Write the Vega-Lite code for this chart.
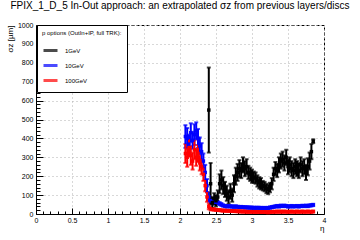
{
  "$schema": "https://vega.github.io/schema/vega-lite/v6.json",
  "autosize": "none",
  "width": 288,
  "height": 189,
  "padding": {"left": 36, "top": 25, "right": 36, "bottom": 26},
  "background": "white",
  "title": {"text": "FPIX_1_D_5 In-Out approach: an extrapolated σz from previous layers/discs", "fontSize": 10, "font": "Liberation Sans", "fontWeight": "normal", "anchor": "middle", "offset": 10, "color": "black"},
  "config": {
    "font": "Liberation Sans",
    "view": {"stroke": "black", "strokeDash": [3, 2], "strokeWidth": 1},
    "axis": {"domainColor": "black", "tickColor": "black", "labelColor": "black", "titleColor": "black", "labelFont": "Liberation Sans", "titleFont": "Liberation Sans", "labelFontSize": 7, "titleFontWeight": "normal"}
  },
  "data": {"values": [
    {"s":"10GeV","eta":2.075,"v":410,"e":60},{"s":"10GeV","eta":2.1,"v":400,"e":55},{"s":"10GeV","eta":2.125,"v":370,"e":50},{"s":"10GeV","eta":2.15,"v":430,"e":50},{"s":"10GeV","eta":2.175,"v":390,"e":45},{"s":"10GeV","eta":2.2,"v":420,"e":55},{"s":"10GeV","eta":2.225,"v":440,"e":45},{"s":"10GeV","eta":2.25,"v":400,"e":50},{"s":"10GeV","eta":2.275,"v":360,"e":45},{"s":"10GeV","eta":2.3,"v":330,"e":45},{"s":"10GeV","eta":2.325,"v":280,"e":40},{"s":"10GeV","eta":2.35,"v":220,"e":40},{"s":"10GeV","eta":2.375,"v":150,"e":35},{"s":"10GeV","eta":2.4,"v":90,"e":25},{"s":"10GeV","eta":2.425,"v":70,"e":15},{"s":"10GeV","eta":2.45,"v":65,"e":10},{"s":"10GeV","eta":2.475,"v":62,"e":10},{"s":"10GeV","eta":2.5,"v":65,"e":10},{"s":"10GeV","eta":2.525,"v":60,"e":8},{"s":"10GeV","eta":2.55,"v":55,"e":8},{"s":"10GeV","eta":2.575,"v":50,"e":8},{"s":"10GeV","eta":2.6,"v":45,"e":6},{"s":"10GeV","eta":2.625,"v":42,"e":6},{"s":"10GeV","eta":2.65,"v":40,"e":6},{"s":"10GeV","eta":2.675,"v":42,"e":6},{"s":"10GeV","eta":2.7,"v":40,"e":6},{"s":"10GeV","eta":2.725,"v":40,"e":6},{"s":"10GeV","eta":2.75,"v":38,"e":6},{"s":"10GeV","eta":2.775,"v":40,"e":6},{"s":"10GeV","eta":2.8,"v":38,"e":6},{"s":"10GeV","eta":2.825,"v":36,"e":6},{"s":"10GeV","eta":2.85,"v":37,"e":6},{"s":"10GeV","eta":2.875,"v":36,"e":6},{"s":"10GeV","eta":2.9,"v":35,"e":6},{"s":"10GeV","eta":2.925,"v":35,"e":6},{"s":"10GeV","eta":2.95,"v":34,"e":6},{"s":"10GeV","eta":2.975,"v":34,"e":6},{"s":"10GeV","eta":3.0,"v":33,"e":6},{"s":"10GeV","eta":3.025,"v":33,"e":6},{"s":"10GeV","eta":3.05,"v":32,"e":6},{"s":"10GeV","eta":3.075,"v":33,"e":6},{"s":"10GeV","eta":3.1,"v":32,"e":6},{"s":"10GeV","eta":3.125,"v":32,"e":6},{"s":"10GeV","eta":3.15,"v":31,"e":6},{"s":"10GeV","eta":3.175,"v":32,"e":6},{"s":"10GeV","eta":3.2,"v":31,"e":6},{"s":"10GeV","eta":3.225,"v":32,"e":6},{"s":"10GeV","eta":3.25,"v":34,"e":6},{"s":"10GeV","eta":3.275,"v":36,"e":6},{"s":"10GeV","eta":3.3,"v":38,"e":6},{"s":"10GeV","eta":3.325,"v":40,"e":6},{"s":"10GeV","eta":3.35,"v":42,"e":6},{"s":"10GeV","eta":3.375,"v":40,"e":6},{"s":"10GeV","eta":3.4,"v":44,"e":6},{"s":"10GeV","eta":3.425,"v":42,"e":6},{"s":"10GeV","eta":3.45,"v":44,"e":6},{"s":"10GeV","eta":3.475,"v":42,"e":6},{"s":"10GeV","eta":3.5,"v":40,"e":6},{"s":"10GeV","eta":3.525,"v":40,"e":6},{"s":"10GeV","eta":3.55,"v":42,"e":6},{"s":"10GeV","eta":3.575,"v":40,"e":6},{"s":"10GeV","eta":3.6,"v":41,"e":6},{"s":"10GeV","eta":3.625,"v":42,"e":6},{"s":"10GeV","eta":3.65,"v":40,"e":6},{"s":"10GeV","eta":3.675,"v":42,"e":6},{"s":"10GeV","eta":3.7,"v":43,"e":6},{"s":"10GeV","eta":3.725,"v":42,"e":6},{"s":"10GeV","eta":3.75,"v":44,"e":6},{"s":"10GeV","eta":3.775,"v":42,"e":6},{"s":"10GeV","eta":3.8,"v":45,"e":6},{"s":"10GeV","eta":3.825,"v":46,"e":6},{"s":"10GeV","eta":3.85,"v":48,"e":6},
    {"s":"100GeV","eta":2.075,"v":320,"e":50},{"s":"100GeV","eta":2.1,"v":300,"e":50},{"s":"100GeV","eta":2.125,"v":350,"e":45},{"s":"100GeV","eta":2.15,"v":310,"e":50},{"s":"100GeV","eta":2.175,"v":280,"e":45},{"s":"100GeV","eta":2.2,"v":340,"e":50},{"s":"100GeV","eta":2.225,"v":300,"e":45},{"s":"100GeV","eta":2.25,"v":320,"e":45},{"s":"100GeV","eta":2.275,"v":270,"e":40},{"s":"100GeV","eta":2.3,"v":250,"e":40},{"s":"100GeV","eta":2.325,"v":210,"e":35},{"s":"100GeV","eta":2.35,"v":150,"e":30},{"s":"100GeV","eta":2.375,"v":90,"e":25},{"s":"100GeV","eta":2.4,"v":40,"e":15},{"s":"100GeV","eta":2.425,"v":28,"e":8},{"s":"100GeV","eta":2.45,"v":25,"e":6},{"s":"100GeV","eta":2.475,"v":24,"e":6},{"s":"100GeV","eta":2.5,"v":22,"e":5},{"s":"100GeV","eta":2.525,"v":21,"e":5},{"s":"100GeV","eta":2.55,"v":20,"e":5},{"s":"100GeV","eta":2.575,"v":19,"e":5},{"s":"100GeV","eta":2.6,"v":18,"e":5},{"s":"100GeV","eta":2.625,"v":18,"e":5},{"s":"100GeV","eta":2.65,"v":17,"e":5},{"s":"100GeV","eta":2.675,"v":17,"e":5},{"s":"100GeV","eta":2.7,"v":16,"e":5},{"s":"100GeV","eta":2.725,"v":16,"e":5},{"s":"100GeV","eta":2.75,"v":15,"e":5},{"s":"100GeV","eta":2.775,"v":15,"e":5},{"s":"100GeV","eta":2.8,"v":14,"e":5},{"s":"100GeV","eta":2.825,"v":14,"e":5},{"s":"100GeV","eta":2.85,"v":13,"e":5},{"s":"100GeV","eta":2.875,"v":13,"e":5},{"s":"100GeV","eta":2.9,"v":13,"e":5},{"s":"100GeV","eta":2.925,"v":12,"e":5},{"s":"100GeV","eta":2.95,"v":12,"e":5},{"s":"100GeV","eta":2.975,"v":12,"e":5},{"s":"100GeV","eta":3.0,"v":12,"e":5},{"s":"100GeV","eta":3.025,"v":12,"e":5},{"s":"100GeV","eta":3.05,"v":11,"e":5},{"s":"100GeV","eta":3.075,"v":12,"e":5},{"s":"100GeV","eta":3.1,"v":11,"e":5},{"s":"100GeV","eta":3.125,"v":11,"e":5},{"s":"100GeV","eta":3.15,"v":11,"e":5},{"s":"100GeV","eta":3.175,"v":11,"e":5},{"s":"100GeV","eta":3.2,"v":10,"e":5},{"s":"100GeV","eta":3.225,"v":9,"e":6},{"s":"100GeV","eta":3.25,"v":11,"e":5},{"s":"100GeV","eta":3.275,"v":12,"e":5},{"s":"100GeV","eta":3.3,"v":12,"e":5},{"s":"100GeV","eta":3.325,"v":12,"e":5},{"s":"100GeV","eta":3.35,"v":13,"e":5},{"s":"100GeV","eta":3.375,"v":12,"e":5},{"s":"100GeV","eta":3.4,"v":13,"e":5},{"s":"100GeV","eta":3.425,"v":12,"e":5},{"s":"100GeV","eta":3.45,"v":13,"e":5},{"s":"100GeV","eta":3.475,"v":12,"e":5},{"s":"100GeV","eta":3.5,"v":12,"e":5},{"s":"100GeV","eta":3.525,"v":12,"e":5},{"s":"100GeV","eta":3.55,"v":13,"e":5},{"s":"100GeV","eta":3.575,"v":12,"e":5},{"s":"100GeV","eta":3.6,"v":12,"e":5},{"s":"100GeV","eta":3.625,"v":13,"e":5},{"s":"100GeV","eta":3.65,"v":12,"e":5},{"s":"100GeV","eta":3.675,"v":12,"e":5},{"s":"100GeV","eta":3.7,"v":13,"e":5},{"s":"100GeV","eta":3.725,"v":12,"e":5},{"s":"100GeV","eta":3.75,"v":12,"e":5},{"s":"100GeV","eta":3.775,"v":13,"e":5},{"s":"100GeV","eta":3.8,"v":12,"e":5},{"s":"100GeV","eta":3.825,"v":12,"e":5},{"s":"100GeV","eta":3.85,"v":13,"e":5},
    {"s":"1GeV","eta":2.4,"v":550,"e":225},{"s":"1GeV","eta":2.425,"v":160,"e":110},{"s":"1GeV","eta":2.45,"v":60,"e":30},{"s":"1GeV","eta":2.475,"v":80,"e":30},{"s":"1GeV","eta":2.5,"v":70,"e":30},{"s":"1GeV","eta":2.525,"v":90,"e":35},{"s":"1GeV","eta":2.55,"v":160,"e":50},{"s":"1GeV","eta":2.575,"v":180,"e":50},{"s":"1GeV","eta":2.6,"v":150,"e":45},{"s":"1GeV","eta":2.625,"v":130,"e":40},{"s":"1GeV","eta":2.65,"v":110,"e":40},{"s":"1GeV","eta":2.675,"v":90,"e":35},{"s":"1GeV","eta":2.7,"v":120,"e":40},{"s":"1GeV","eta":2.725,"v":100,"e":35},{"s":"1GeV","eta":2.75,"v":160,"e":45},{"s":"1GeV","eta":2.775,"v":200,"e":45},{"s":"1GeV","eta":2.8,"v":220,"e":45},{"s":"1GeV","eta":2.825,"v":240,"e":45},{"s":"1GeV","eta":2.85,"v":230,"e":40},{"s":"1GeV","eta":2.875,"v":260,"e":40},{"s":"1GeV","eta":2.9,"v":240,"e":40},{"s":"1GeV","eta":2.925,"v":250,"e":40},{"s":"1GeV","eta":2.95,"v":220,"e":35},{"s":"1GeV","eta":2.975,"v":210,"e":35},{"s":"1GeV","eta":3.0,"v":200,"e":35},{"s":"1GeV","eta":3.025,"v":195,"e":30},{"s":"1GeV","eta":3.05,"v":190,"e":30},{"s":"1GeV","eta":3.075,"v":175,"e":30},{"s":"1GeV","eta":3.1,"v":165,"e":30},{"s":"1GeV","eta":3.125,"v":160,"e":30},{"s":"1GeV","eta":3.15,"v":150,"e":25},{"s":"1GeV","eta":3.175,"v":145,"e":25},{"s":"1GeV","eta":3.2,"v":135,"e":25},{"s":"1GeV","eta":3.225,"v":130,"e":25},{"s":"1GeV","eta":3.25,"v":140,"e":25},{"s":"1GeV","eta":3.275,"v":160,"e":30},{"s":"1GeV","eta":3.3,"v":210,"e":35},{"s":"1GeV","eta":3.325,"v":240,"e":35},{"s":"1GeV","eta":3.35,"v":230,"e":35},{"s":"1GeV","eta":3.375,"v":260,"e":40},{"s":"1GeV","eta":3.4,"v":280,"e":40},{"s":"1GeV","eta":3.425,"v":290,"e":40},{"s":"1GeV","eta":3.45,"v":270,"e":40},{"s":"1GeV","eta":3.475,"v":300,"e":40},{"s":"1GeV","eta":3.5,"v":250,"e":40},{"s":"1GeV","eta":3.525,"v":260,"e":40},{"s":"1GeV","eta":3.55,"v":240,"e":40},{"s":"1GeV","eta":3.575,"v":230,"e":40},{"s":"1GeV","eta":3.6,"v":250,"e":40},{"s":"1GeV","eta":3.625,"v":240,"e":40},{"s":"1GeV","eta":3.65,"v":230,"e":40},{"s":"1GeV","eta":3.675,"v":260,"e":40},{"s":"1GeV","eta":3.7,"v":240,"e":40},{"s":"1GeV","eta":3.725,"v":250,"e":40},{"s":"1GeV","eta":3.75,"v":220,"e":40},{"s":"1GeV","eta":3.775,"v":250,"e":45},{"s":"1GeV","eta":3.8,"v":280,"e":45},{"s":"1GeV","eta":3.825,"v":330,"e":40},{"s":"1GeV","eta":3.85,"v":385,"e":10}
  ]},
  "resolve": {"axis": {"x": "independent", "y": "independent"}},
  "layer": [
    {
      "mark": {"type": "errorbar", "ticks": true, "size": 4, "thickness": 2},
      "encoding": {
        "x": {"field": "eta", "type": "quantitative", "scale": {"domain": [0, 4], "nice": false, "zero": false},
              "axis": {"values": [0, 0.5, 1, 1.5, 2, 2.5, 3, 3.5, 4], "format": "~g", "labelFlush": false, "labelOverlap": false, "tickSize": -6, "labelPadding": 8, "grid": true, "gridDash": [1, 3], "gridColor": "#b0b0b0", "title": "η", "titleAnchor": "end", "titleFontSize": 8, "titlePadding": 1}},
        "y": {"field": "v", "type": "quantitative", "scale": {"domain": [0, 1000], "nice": false},
              "axis": {"values": [0, 100, 200, 300, 400, 500, 600, 700, 800, 900, 1000], "format": "d", "labelOverlap": false, "tickSize": -7, "labelPadding": 10, "grid": true, "gridDash": [1, 3], "gridColor": "#b0b0b0", "title": "σz [µm]", "titleAnchor": "end", "titleFontSize": 8, "titlePadding": 3}},
        "yError": {"field": "e"},
        "color": {"field": "s", "type": "nominal", "scale": {"domain": ["1GeV", "10GeV", "100GeV"], "range": ["#000000", "#0000ff", "#ff0000"]},
                  "legend": {"orient": "none", "legendX": 1, "legendY": 0, "title": "p options (OutIn+IP, full TRK):", "titleFontSize": 6, "titleFontWeight": "normal", "titleFont": "Liberation Sans", "titleColor": "black", "titlePadding": 6, "labelFontSize": 6, "labelFont": "Liberation Sans", "labelColor": "black", "labelOffset": 6, "symbolType": "stroke", "symbolSize": 196, "symbolStrokeWidth": 3, "rowPadding": 0, "padding": 5, "fillColor": "white", "strokeColor": "black", "cornerRadius": 0}}
      }
    },
    {
      "mark": {"type": "point", "shape": "square", "filled": true, "size": 12, "opacity": 1},
      "encoding": {
        "x": {"field": "eta", "type": "quantitative",
              "axis": {"orient": "bottom", "values": [0.1,0.2,0.3,0.4,0.6,0.7,0.8,0.9,1.1,1.2,1.3,1.4,1.6,1.7,1.8,1.9,2.1,2.2,2.3,2.4,2.6,2.7,2.8,2.9,3.1,3.2,3.3,3.4,3.6,3.7,3.8,3.9], "labels": false, "domain": false, "grid": false, "tickSize": -3, "title": null}},
        "y": {"field": "v", "type": "quantitative",
              "axis": {"orient": "left", "values": [20,40,60,80,120,140,160,180,220,240,260,280,320,340,360,380,420,440,460,480,520,540,560,580,620,640,660,680,720,740,760,780,820,840,860,880,920,940,960,980], "labels": false, "domain": false, "grid": false, "tickSize": -4, "title": null}},
        "color": {"field": "s", "type": "nominal"}
      }
    }
  ]
}
